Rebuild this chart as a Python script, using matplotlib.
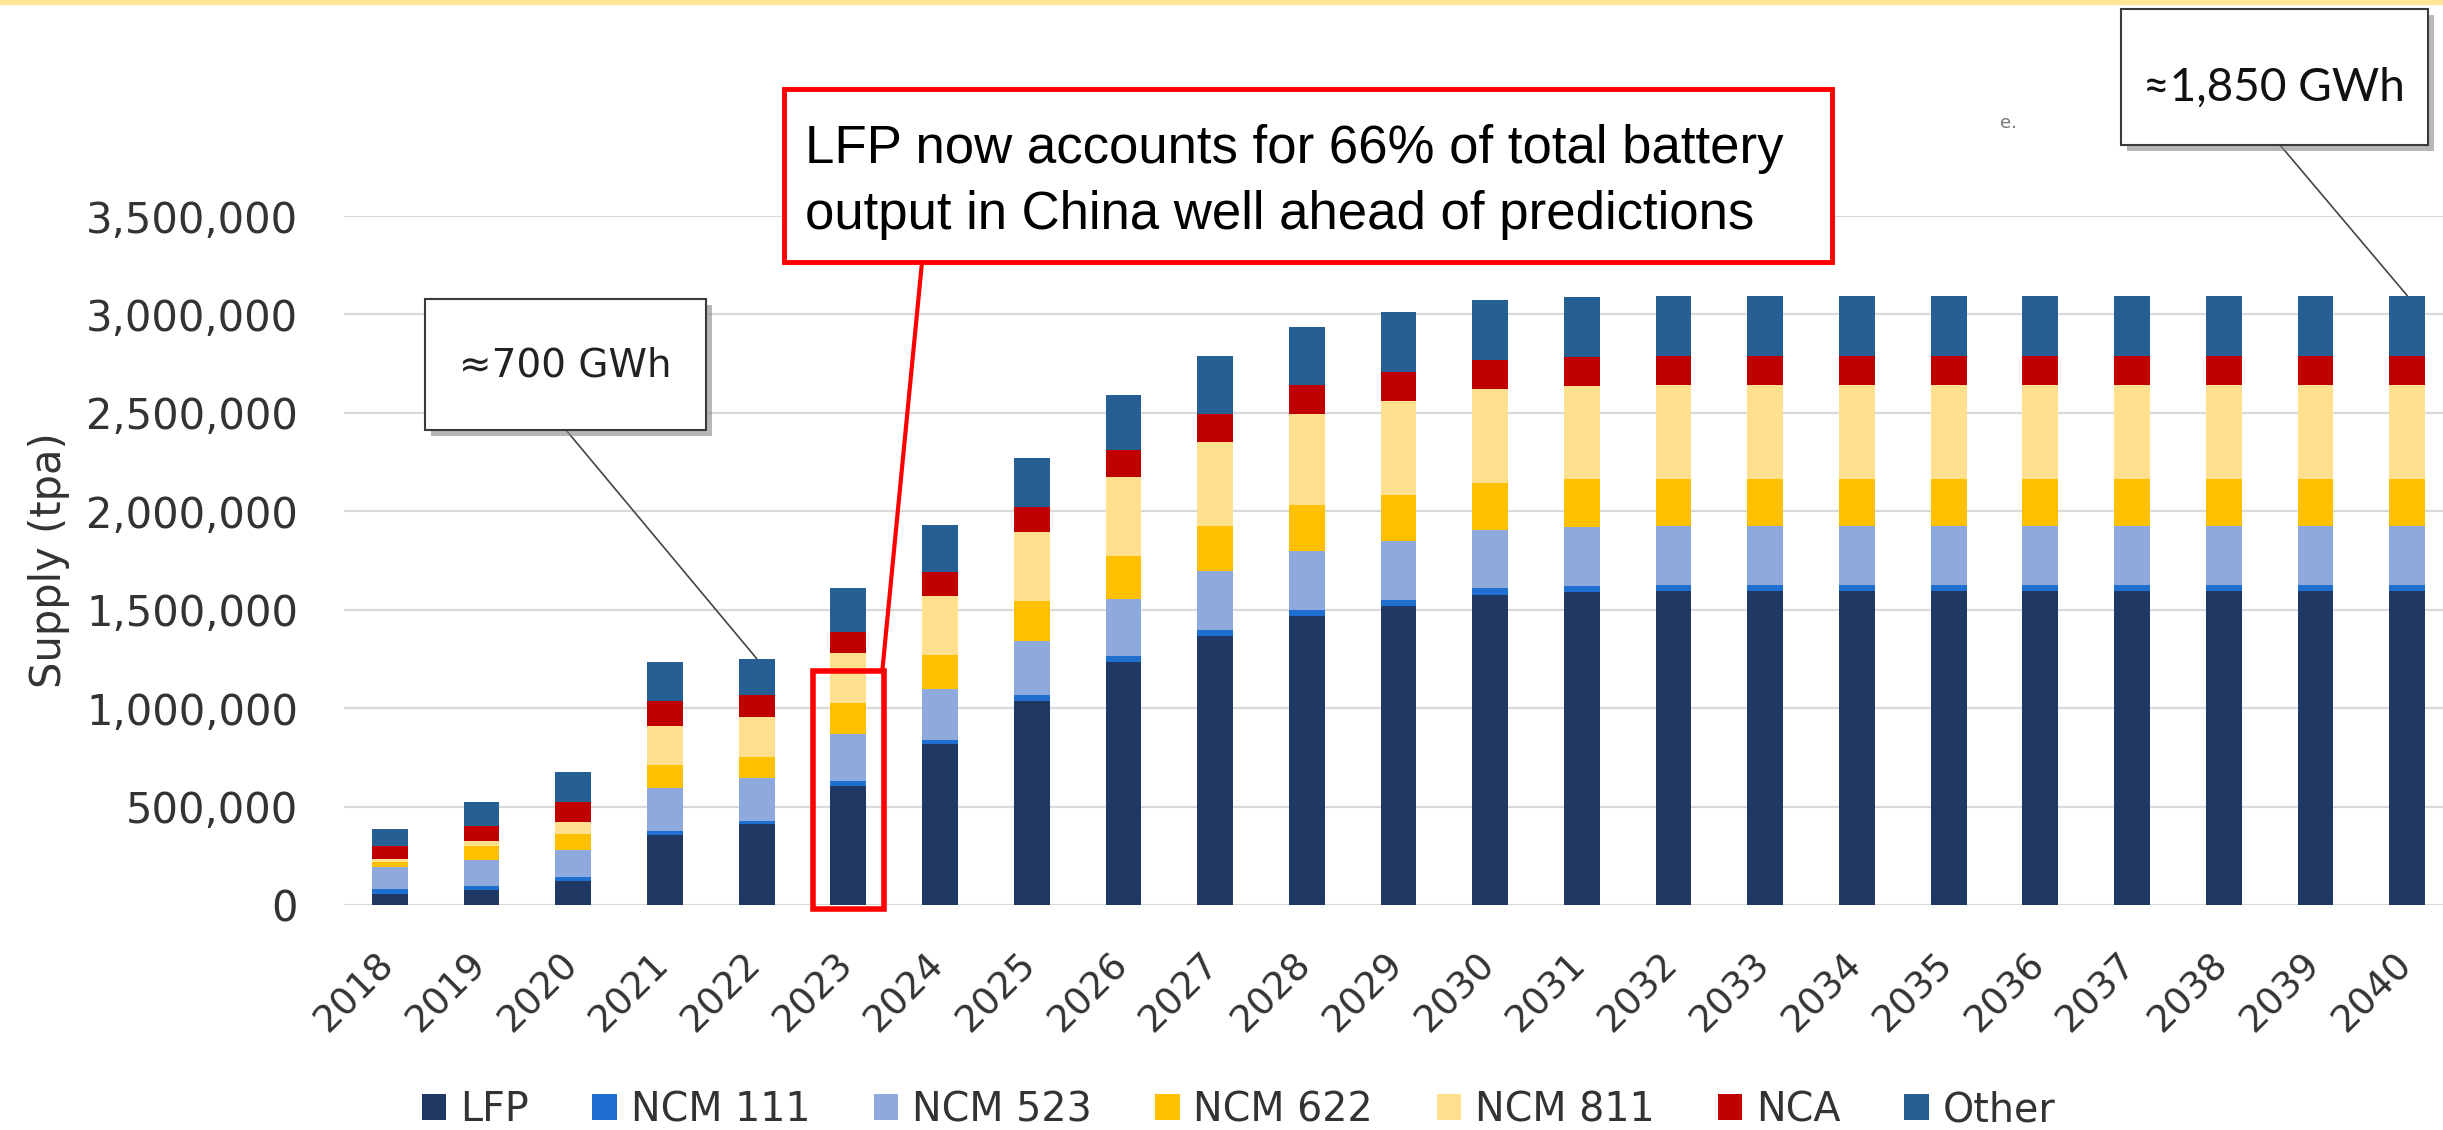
import matplotlib
matplotlib.use('Agg')
import matplotlib.pyplot as plt
import matplotlib.patheffects as pe
import matplotlib.transforms as mtransforms
from matplotlib.patches import Rectangle
from matplotlib.ticker import FuncFormatter
import numpy as np

# values in thousand tonnes per annum
years = [str(y) for y in range(2018, 2041)]
lfp = [58, 76, 121, 356, 412, 606, 818, 1036, 1235, 1369, 1466, 1517, 1577, 1588,
       1594, 1594, 1594, 1594, 1594, 1594, 1594, 1594, 1594]
ncm111 = [25, 20, 20, 18, 17, 25, 22, 29, 28, 27, 31, 31, 33, 33,
          31, 31, 31, 31, 31, 31, 31, 31, 31]
ncm523 = [109, 131, 137, 219, 217, 240, 256, 276, 289, 300, 302, 302, 293, 300,
          298, 298, 298, 298, 298, 298, 298, 298, 298]
ncm622 = [25, 71, 83, 117, 106, 156, 174, 203, 223, 227, 232, 234, 240, 242,
          240, 240, 240, 240, 240, 240, 240, 240, 240]
ncm811 = [18, 25, 63, 199, 202, 252, 302, 352, 397, 428, 461, 478, 477, 472,
          476, 476, 476, 476, 476, 476, 476, 476, 476]
nca = [63, 76, 101, 126, 114, 110, 119, 124, 139, 143, 147, 144, 147, 148,
       150, 150, 150, 150, 150, 150, 150, 150, 150]
other = [88, 126, 152, 197, 184, 221, 238, 253, 280, 295, 298, 306, 307, 306,
         307, 307, 307, 307, 307, 307, 307, 307, 307]

series = [('LFP', lfp, '#1F3864'),
          ('NCM 111', ncm111, '#1F6FD0'),
          ('NCM 523', ncm523, '#8EA9DB'),
          ('NCM 622', ncm622, '#FFC000'),
          ('NCM 811', ncm811, '#FFE08F'),
          ('NCA', nca, '#C00000'),
          ('Other', other, '#265F93')]

W, H = 2443, 1130
fig = plt.figure(figsize=(W / 100, H / 100), dpi=100)


def fx(px):
    return px / W


def fy(py):
    return 1 - py / H


ax = fig.add_axes([fx(344), fy(905), (2453 - 344) / W, (905 - 216) / H])

x = np.arange(len(years))
bottom = np.zeros(len(years))
for name, vals, col in series:
    v = np.array(vals) * 1000
    ax.bar(x, v, bottom=bottom, width=0.39, color=col, label=name, zorder=2)
    bottom += v
totals = bottom

txt_col = '#333333'
ax.set_xlim(-0.5, len(years) - 0.5)
ax.set_ylim(0, 3500000)
ax.set_yticks(np.arange(0, 3500001, 500000))
ax.yaxis.set_major_formatter(FuncFormatter(lambda v, p: f'{int(v):,}'))
ax.yaxis.grid(True, color='#D9D9D9', lw=1.6, zorder=0)
ax.set_axisbelow(True)
for s in ax.spines.values():
    s.set_visible(False)
ax.tick_params(axis='y', length=0, pad=33, labelsize=30, labelcolor=txt_col)
ax.tick_params(axis='x', length=0, pad=30, labelsize=27, labelcolor=txt_col)
ax.set_xticks(x)
ax.set_xticklabels(years, rotation=45, ha='right', rotation_mode='anchor')
shift = mtransforms.ScaledTranslation(-14 / 100, 0, fig.dpi_scale_trans)
for lbl in ax.get_xticklabels():
    lbl.set_transform(lbl.get_transform() + shift)
ax.set_ylabel('Supply (tpa)', fontsize=30, color=txt_col)
ax.yaxis.set_label_coords(-0.130, 0.5)

leg = fig.legend(loc='center', bbox_to_anchor=(0.507, fy(1110)), ncol=7,
                 frameon=False, fontsize=28.5, handlelength=0.62, handleheight=0.62,
                 handletextpad=0.35, columnspacing=1.6, labelcolor=txt_col)

# yellow strip on top
fig.patches.append(Rectangle((0, fy(4)), 1, 4 / H, transform=fig.transFigure,
                             color='#FFE699', zorder=0))

shadow = [pe.withSimplePatchShadow(offset=(4, -4), shadow_rgbFace='#888888', alpha=0.6)]

# ~700 GWh callout
ax.annotate('', xy=(4, totals[4]), xytext=(fx(566), fy(430)), textcoords='figure fraction',
            arrowprops=dict(arrowstyle='-', color='#444444', lw=1.2, shrinkA=0, shrinkB=0))
fig.patches.append(Rectangle((fx(425), fy(430)), 281 / W, 131 / H, transform=fig.transFigure,
                             facecolor='white', edgecolor='#3a3a3a', lw=1.5,
                             path_effects=shadow, zorder=5))
fig.text(fx(565), fy(366), '\u2248700 GWh', fontsize=28, color='#222222',
         ha='center', va='center', zorder=6)

# ~1,850 GWh callout
ax.annotate('', xy=(22, totals[22]), xytext=(fx(2280), fy(145)), textcoords='figure fraction',
            arrowprops=dict(arrowstyle='-', color='#444444', lw=1.2, shrinkA=0, shrinkB=0))
fig.patches.append(Rectangle((fx(2121), fy(145)), 307 / W, 136 / H, transform=fig.transFigure,
                             facecolor='white', edgecolor='#3a3a3a', lw=1.5,
                             path_effects=shadow, zorder=5))
fig.text(fx(2274), fy(88), '\u22481,850 GWh', fontsize=33, family='Lato', color='#111111',
         ha='center', va='center', zorder=6)

fig.text(fx(2000), fy(128), 'e.', fontsize=13, color='#777777')

# red highlight of 2023
ax.add_patch(Rectangle((4.61, -18000), 0.78, 1205000, fill=False, edgecolor='#FF0000',
                       lw=4, clip_on=False, zorder=4))
ax.annotate('', xy=(5.37, 1187000), xytext=(fx(922), fy(262)), textcoords='figure fraction',
            arrowprops=dict(arrowstyle='-', color='#FF0000', lw=3, shrinkA=0, shrinkB=0))
fig.patches.append(Rectangle((fx(784), fy(262)), 1048 / W, 173 / H, transform=fig.transFigure,
                             facecolor='white', edgecolor='#FF0000', lw=3.5, zorder=5))
fig.text(fx(805), fy(149), 'LFP now accounts for 66% of total battery', fontsize=38,
         family='Liberation Sans', color='black', ha='left', va='center', zorder=6)
fig.text(fx(805), fy(215), 'output in China well ahead of predictions', fontsize=38,
         family='Liberation Sans', color='black', ha='left', va='center', zorder=6)

fig.savefig('out.png', dpi=100, facecolor='white')
